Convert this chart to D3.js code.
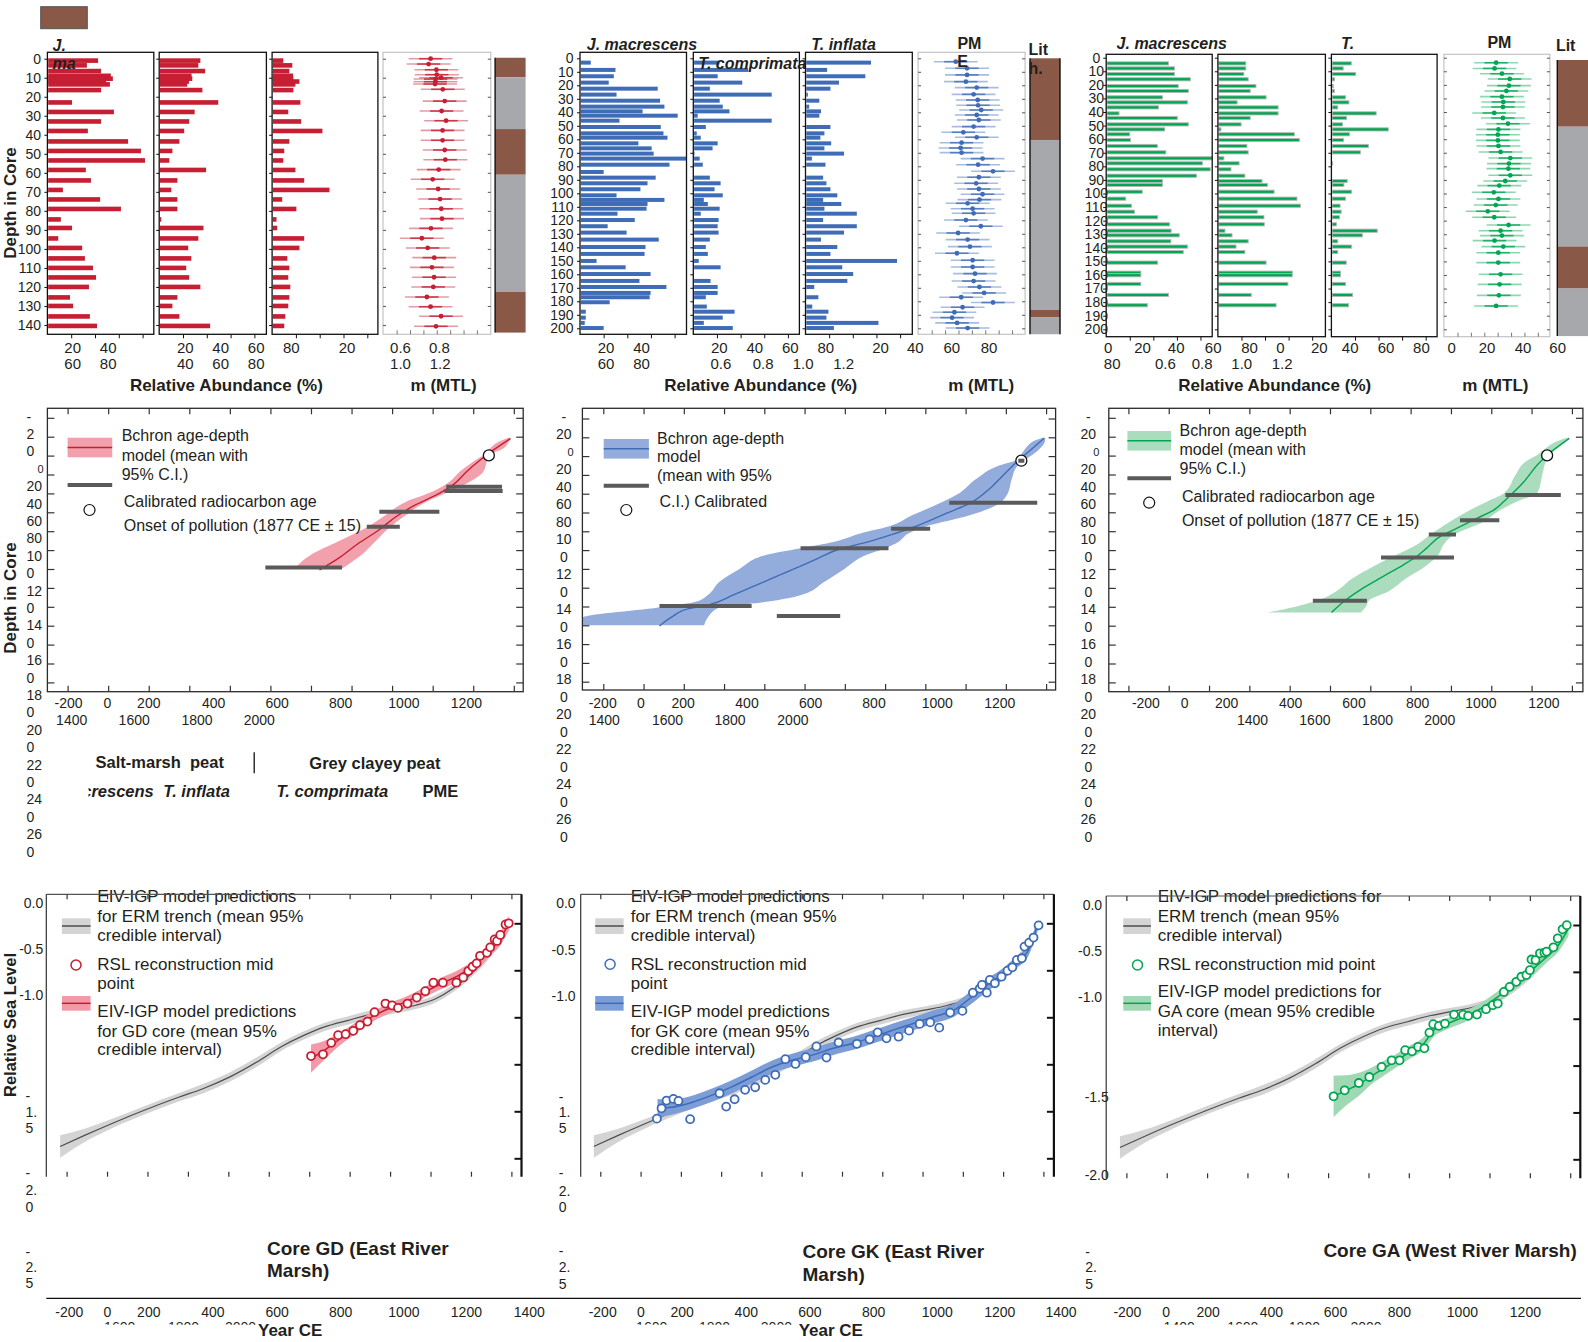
<!DOCTYPE html>
<html>
<head>
<meta charset="utf-8">
<title>Foraminifera, age-depth models and relative sea level</title>
<script src="https://cdn.jsdelivr.net/npm/d3@7"></script>
<style>
  body { margin: 0; background: #fff; }
  svg { display: block; font-family: "Liberation Sans", Arial, sans-serif; }
</style>
</head>
<body>
<svg id="chart" width="1588" height="1342"></svg>
<script>
// ---------------- top row: foraminifera counts (%) and PME (m MTL) by depth (cm) ----------------
const GD_DEPTH = [1, 3.5, 6.5, 9, 10.5, 12, 13.5, 16.5, 23, 28, 33, 38, 43.5, 48.5, 53.5, 58.5, 64, 69, 74, 79, 84.5, 89, 94.5, 99.5, 105, 110, 115, 120, 125.5, 130, 135.5, 140.5];
const GD_JMAC = [42.6, 33.2, 45.1, 53.3, 55, 49.4, 52.5, 45.1, 20.7, 55.9, 45.1, 34, 67.8, 78.6, 82, 32.3, 36.6, 13, 44.3, 61.8, 11.3, 20.7, 9.1, 29.2, 31.5, 38.3, 40.9, 34.9, 19, 21.6, 35.7, 41.7];
const GD_TINF = [34.6, 32.9, 38.6, 27.2, 27.8, 25, 23.5, 36.3, 49.6, 29.8, 25.2, 21, 17, 11.1, 8.5, 39.4, 15.3, 10.2, 15.3, 15.3, 1.7, 37.2, 32.9, 24.4, 27, 22.7, 25.2, 34.6, 15.3, 11.1, 17, 42.8];
const GD_TCOMP = [9.4, 17, 14.5, 17.6, 17.9, 23, 19.6, 17.9, 23.8, 13.6, 24.4, 42.3, 14.5, 10.2, 9.4, 19.6, 27, 48.2, 8.5, 20.4, 3.7, 4.3, 27, 23, 12.8, 14.5, 13.6, 15.3, 14.5, 13.6, 11.1, 10.2];
const GD_PME_DEPTH = [0, 2.8, 5.8, 8.4, 10, 10.7, 12.1, 13.3, 16.1, 22.3, 27.5, 32.6, 37.7, 42.9, 48, 53.1, 58.3, 63.4, 68.5, 73.8, 78.9, 84.1, 89.2, 94.4, 99.5, 104.6, 109.7, 114.9, 120, 125.3, 130.4, 135.4, 140.7];
const GD_PME = [0.755, 0.745, 0.785, 0.787, 0.809, 0.781, 0.780, 0.778, 0.818, 0.828, 0.812, 0.835, 0.817, 0.817, 0.828, 0.831, 0.797, 0.766, 0.794, 0.804, 0.810, 0.814, 0.757, 0.710, 0.740, 0.774, 0.762, 0.773, 0.769, 0.736, 0.755, 0.809, 0.783];
const GD_LITH = [
  { top: -0.5, base: 9.8, unit: 'peat' }, { top: 9.8, base: 37, unit: 'clay' },
  { top: 37, base: 61, unit: 'peat' }, { top: 61, base: 122.6, unit: 'clay' },
  { top: 122.6, base: 144, unit: 'peat' }
];

const GK_DEPTH = [3.2, 8.6, 13.3, 18, 22.5, 26.9, 31.4, 35.8, 39.3, 42.5, 46.2, 50.9, 55.6, 58.8, 63, 66.7, 70.6, 74.3, 78.8, 84.2, 88.4, 92.6, 97, 101.5, 104.9, 107.9, 111.4, 115.1, 119.8, 124.4, 129.1, 134.3, 139.8, 144.9, 150.1, 154.8, 159.8, 164.9, 169.4, 173.8, 177, 180.7, 183.9, 187.7, 192.1, 196, 199.8];
const GK_JMAC = [9.1, 30, 28.6, 24.3, 65.7, 30.9, 67.7, 71.4, 52.9, 82.6, 33.4, 68.3, 70.6, 74, 49.4, 60.6, 62.3, 90, 75.7, 20, 64, 57.1, 51.1, 30.9, 71.4, 57.1, 56.3, 31.7, 46.3, 23.4, 39.4, 66.6, 55.4, 54.6, 14, 38.6, 59.7, 50.3, 73.1, 59.7, 58.9, 25.1, 0, 4.9, 4.9, 4, 20];
const GK_TCOMP = [22, 46.3, 20.6, 41.4, 14, 66.3, 22.3, 24.9, 30.6, 3.7, 66.3, 10.6, 2.9, 6.3, 20.6, 16.3, 1.1, 5.4, 8, 0, 14, 23.1, 18, 24.9, 8.9, 12.3, 22.3, 6.3, 21.4, 20.6, 21.4, 14, 10.6, 12.3, 4.6, 23.1, 0, 14.6, 20.6, 20.6, 10.6, 0, 11.4, 34.9, 24.9, 8.9, 33.4];
const GK_TINF = [55.4, 18.3, 50.6, 28.3, 21.1, 2, 11.7, 3.1, 13.1, 11.7, 0, 21.1, 16, 12.6, 21.7, 16, 32.6, 5.4, 16.9, 0, 14.9, 17.7, 21.1, 26.9, 14.9, 30.3, 16, 43.4, 14.9, 43.4, 32.6, 13.1, 26.9, 21.1, 77.4, 31.1, 40.3, 35.4, 7.4, 0, 10.9, 0, 5.7, 19.4, 17.7, 61.7, 24];
const GK_PME_DEPTH = [2.5, 7.4, 12.3, 17.3, 21.7, 26.7, 30.9, 34.8, 38.3, 42, 45.7, 50.6, 54.8, 58.5, 62.5, 66.4, 69.9, 74.3, 78.8, 83.7, 88.1, 92.6, 96.8, 100.7, 104.7, 107.4, 111.4, 114.8, 119.8, 124.4, 129.4, 134.3, 139.5, 144.4, 149.6, 154.6, 159.5, 165, 169.4, 173.8, 177, 180.9, 184.4, 188.1, 192.1, 196, 199.8];
const GK_PME = [0.704, 0.762, 0.762, 0.756, 0.812, 0.796, 0.817, 0.819, 0.835, 0.812, 0.823, 0.796, 0.743, 0.812, 0.734, 0.729, 0.734, 0.842, 0.819, 0.896, 0.823, 0.809, 0.823, 0.842, 0.826, 0.765, 0.791, 0.796, 0.756, 0.833, 0.716, 0.765, 0.777, 0.710, 0.791, 0.791, 0.803, 0.796, 0.826, 0.850, 0.732, 0.896, 0.739, 0.697, 0.685, 0.711, 0.765];
const GK_LITH = [
  { top: 0, base: 60.5, unit: 'peat' }, { top: 60.5, base: 186.4, unit: 'clay' },
  { top: 186.4, base: 192, unit: 'peat' }, { top: 192, base: 204.4, unit: 'clay' }
];

const GA_DEPTH = [4.2, 7.9, 12, 15.9, 20.9, 24.5, 29.2, 32.9, 36.6, 41, 44.4, 49.1, 52.8, 56.4, 60.6, 65, 69.7, 74.1, 77.8, 82.2, 86.9, 90.8, 93.7, 98.7, 103.8, 109, 113.4, 117.5, 122.7, 127.4, 130.8, 135.2, 139.1, 143.1, 150.9, 158.3, 160.2, 166.6, 174.7, 182.3];
const GA_JMAC = [52.9, 58, 58, 71.4, 61.1, 69.7, 47.7, 68.9, 44.3, 10.9, 60.3, 69.7, 49.7, 20, 20.6, 43.4, 50.6, 90, 81.7, 88.3, 76.6, 47.7, 47.7, 30.6, 16.6, 21.4, 24, 43.7, 53.7, 55.1, 62, 54.9, 68.9, 65.4, 43.7, 29.4, 29.4, 29.4, 52.9, 34.9];
const GA_TCOMP = [23.7, 23.7, 22, 25.7, 32.3, 27.4, 40.9, 16.3, 51.1, 51.1, 27.4, 19.7, 2.6, 64.9, 69.1, 24.6, 25.7, 5.1, 18, 11.1, 22.9, 37.4, 42, 47.7, 67.1, 70, 33.4, 39.1, 39.4, 6, 12, 25.7, 15.4, 22.9, 40.9, 63.1, 63.1, 59.4, 28.3, 49.4];
const GA_TINF = [16.9, 10, 20.6, 2.6, 1.7, 2.6, 12, 14.9, 5.4, 38, 12.9, 9.4, 48.3, 15.4, 10.3, 31.4, 24.6, 0, 1.1, 0, 0, 13.4, 10.6, 17.1, 12, 7.4, 8.3, 6.9, 4.3, 38.9, 26.3, 5.4, 17.1, 5.4, 12.6, 7.7, 7.7, 12, 18, 14.6];
const GA_PME_DEPTH = [3.7, 7.9, 11.8, 15.7, 20.6, 24.5, 28.7, 32.6, 36.3, 40.7, 44.4, 48.6, 52.8, 56.7, 60.9, 65, 69.4, 73.9, 78, 81.7, 86.6, 90.8, 94.2, 99.1, 104, 108.5, 113.1, 117.5, 123.2, 127.4, 131, 134.7, 139.1, 143.6, 150.9, 159.5, 166.9, 175, 182.8];
const GA_PME = [0.779, 0.771, 0.809, 0.849, 0.845, 0.832, 0.809, 0.816, 0.814, 0.769, 0.814, 0.840, 0.791, 0.788, 0.788, 0.791, 0.802, 0.852, 0.845, 0.842, 0.852, 0.826, 0.795, 0.767, 0.791, 0.777, 0.736, 0.769, 0.843, 0.802, 0.809, 0.771, 0.816, 0.790, 0.790, 0.802, 0.797, 0.793, 0.779];
const GA_LITH = [
  { top: 1.7, base: 50.8, unit: 'peat' }, { top: 50.8, base: 139, unit: 'clay' },
  { top: 139, base: 170, unit: 'peat' }, { top: 170, base: 205, unit: 'clay' }
];

// ---------------- middle row: Bchron age-depth models ----------------
const GD_MODEL_DEPTH = [2, 14, 25, 37, 51, 60, 72, 85, 99, 113, 129, 141];
const GD_MODEL_YEAR = [1983, 1900, 1833, 1767, 1700, 1633, 1517, 1417, 1333, 1233, 1133, 1042];
const GD_CI_DEPTH = [1, 5.3, 12.3, 19.4, 26.5, 37, 47.6, 58, 69, 83, 97, 111, 125, 140];
const GD_CI_LO = [1975, 1925, 1883, 1850, 1800, 1733, 1683, 1600, 1467, 1367, 1267, 1133, 1000, 917];
const GD_CI_HI = [1987, 1975, 1950, 1883, 1867, 1850, 1783, 1683, 1567, 1467, 1383, 1317, 1250, 1150];
const GD_C14_DEPTH = [52.9, 57.5, 79.4, 95.2, 138.3];
const GD_C14_LO = [1667, 1658, 1337, 1275, 775];
const GD_C14_HI = [1942, 1945, 1633, 1438, 1153];
const GD_ONSET_DEPTH = 19.8;

const GK_MODEL_DEPTH = [1.1, 13.5, 25.9, 40.1, 54.4, 70.3, 81, 93.4, 102.3, 111.2, 118.3, 130.7, 143.2, 155.6, 168, 178, 182.2, 191.1, 200.7];
const GK_MODEL_YEAR = [1990, 1923, 1855, 1788, 1721, 1620, 1503, 1368, 1250, 1116, 982, 847, 713, 578, 444, 326, 225, 141, 79];
const GK_CI_DEPTH = [0.5, 3, 14, 24, 31, 44, 61.5, 72, 83, 95, 102, 111, 118, 125, 140, 154, 168, 175, 181, 192, 200];
const GK_CI_LO = [1985, 1950, 1890, 1855, 1755, 1654, 1553, 1452, 1334, 1217, 1082, 948, 780, 612, 477, 376, 318, 259, 74, -304, -304];
const GK_CI_HI = [1995, 1995, 1960, 1895, 1855, 1830, 1805, 1755, 1620, 1402, 1318, 1267, 1200, 1108, 998, 897, 780, 612, 376, 318, 301];
const GK_C14_DEPTH = [24.9, 69.6, 97.3, 118, 179.4, 190];
const GK_C14_LO = [1862, 1519, 1230, 780, 79, 662];
const GK_C14_HI = [1892, 1956, 1424, 1217, 537, 977];
const GK_ONSET_DEPTH = 24.9;

const GA_MODEL_DEPTH = [1.8, 19.4, 30, 47.6, 65.3, 77.6, 86.4, 97, 105.8, 118.2, 127, 135.8, 148.1, 160.5, 172.8, 185.9];
const GA_MODEL_YEAR = [1987, 1878, 1828, 1762, 1678, 1612, 1528, 1428, 1345, 1278, 1228, 1162, 1062, 962, 878, 808];
const GA_CI_DEPTH = [1.1, 5.3, 12.3, 19.4, 26.5, 40.6, 60, 67, 77.6, 89.9, 104, 114.6, 125.2, 137.6, 149.9, 164, 172.8, 179.9, 185.9];
const GA_CI_LO = [1975, 1920, 1870, 1828, 1770, 1720, 1662, 1595, 1495, 1395, 1295, 1228, 1128, 1012, 912, 828, 745, 628, 495];
const GA_CI_HI = [1987, 1970, 1928, 1887, 1870, 1853, 1828, 1745, 1645, 1562, 1412, 1362, 1337, 1270, 1178, 1087, 995, 978, 953];
const GA_C14_DEPTH = [61.7, 88.5, 103.4, 127.7, 173.5];
const GA_C14_LO = [1670, 1445, 1290, 1053, 715];
const GA_C14_HI = [1945, 1640, 1425, 1415, 983];
const GA_ONSET_DEPTH = 19.8;
const ONSET_YEAR = 1877;

// ---------------- bottom row: relative sea level (m) ----------------
const ERM_YEAR = [-232, -111, 22, 190, 357, 474, 608, 741, 859, 976, 1076, 1193, 1310, 1410, 1527, 1628, 1711, 1812, 1895, 1987];
const ERM_RSL = [-1.437, -1.378, -1.316, -1.242, -1.174, -1.130, -1.067, -0.988, -0.908, -0.845, -0.801, -0.766, -0.733, -0.712, -0.686, -0.650, -0.597, -0.508, -0.410, -0.250];
const ERM_ERR = [0.06, 0.035, 0.025, 0.022, 0.022, 0.025, 0.025, 0.025, 0.022, 0.022, 0.022, 0.022, 0.022, 0.02, 0.02, 0.02, 0.02, 0.02, 0.02, 0.02];

const GD_RSL_YEAR = [1009, 1068, 1109, 1143, 1180, 1218, 1251, 1288, 1323, 1377, 1410, 1439, 1486, 1532, 1574, 1614, 1661, 1728, 1762, 1787, 1808, 1828, 1845, 1879, 1895, 1917, 1929, 1945, 1971, 1987];
const GD_RSL = [-0.956, -0.947, -0.886, -0.845, -0.840, -0.822, -0.792, -0.773, -0.723, -0.677, -0.687, -0.700, -0.677, -0.645, -0.611, -0.566, -0.566, -0.566, -0.538, -0.504, -0.481, -0.463, -0.423, -0.407, -0.378, -0.336, -0.344, -0.312, -0.256, -0.250];
const GD_FIT_YEAR = [1009, 1076, 1143, 1226, 1310, 1394, 1477, 1561, 1645, 1728, 1812, 1879, 1946, 1987];
const GD_FIT = [-0.970, -0.925, -0.872, -0.810, -0.748, -0.703, -0.668, -0.623, -0.574, -0.534, -0.478, -0.410, -0.330, -0.250];
const GD_FIT_ERR = [0.075, 0.05, 0.035, 0.03, 0.027, 0.027, 0.027, 0.027, 0.03, 0.03, 0.03, 0.03, 0.035, 0.04];

const GK_RSL_YEAR = [81, 104, 129, 163, 188, 246, 392, 425, 467, 519, 569, 619, 669, 719, 769, 820, 873, 923, 983, 1074, 1137, 1177, 1221, 1281, 1333, 1386, 1438, 1483, 1537, 1598, 1650, 1684, 1695, 1719, 1734, 1759, 1792, 1822, 1846, 1868, 1893, 1906, 1929, 1951, 1976];
const GK_RSL = [-1.289, -1.234, -1.193, -1.184, -1.195, -1.292, -1.154, -1.225, -1.186, -1.136, -1.122, -1.083, -1.056, -0.973, -0.998, -0.962, -0.905, -0.964, -0.884, -0.891, -0.867, -0.830, -0.862, -0.853, -0.821, -0.785, -0.777, -0.805, -0.725, -0.716, -0.619, -0.597, -0.578, -0.619, -0.551, -0.569, -0.534, -0.502, -0.484, -0.445, -0.436, -0.374, -0.353, -0.326, -0.261];
const GK_FIT_YEAR = [84, 154, 238, 355, 455, 555, 656, 756, 856, 957, 1057, 1157, 1257, 1358, 1458, 1558, 1625, 1709, 1792, 1859, 1926, 1968];
const GK_FIT = [-1.234, -1.229, -1.208, -1.164, -1.119, -1.066, -1.013, -0.977, -0.950, -0.915, -0.888, -0.853, -0.817, -0.782, -0.746, -0.711, -0.658, -0.587, -0.525, -0.463, -0.392, -0.268];
const GK_FIT_ERR = [0.05, 0.04, 0.035, 0.035, 0.035, 0.035, 0.035, 0.035, 0.035, 0.035, 0.035, 0.035, 0.035, 0.035, 0.035, 0.035, 0.035, 0.035, 0.03, 0.03, 0.03, 0.03];

const GA_RSL_YEAR = [827, 882, 952, 1004, 1065, 1115, 1154, 1182, 1216, 1246, 1277, 1302, 1321, 1349, 1379, 1424, 1469, 1494, 1538, 1583, 1616, 1641, 1671, 1700, 1733, 1758, 1783, 1800, 1808, 1828, 1850, 1872, 1883, 1917, 1938, 1962, 1983];
const GA_RSL = [-1.164, -1.132, -1.093, -1.061, -1.007, -0.972, -0.972, -0.918, -0.924, -0.900, -0.908, -0.824, -0.779, -0.788, -0.776, -0.728, -0.728, -0.735, -0.728, -0.699, -0.678, -0.669, -0.607, -0.580, -0.553, -0.526, -0.517, -0.491, -0.434, -0.437, -0.401, -0.398, -0.392, -0.369, -0.321, -0.273, -0.251];
const GA_FIT_YEAR = [827, 890, 957, 1007, 1074, 1140, 1207, 1274, 1324, 1391, 1474, 1558, 1641, 1725, 1808, 1875, 1942, 1992];
const GA_FIT = [-1.164, -1.132, -1.097, -1.061, -1.016, -0.972, -0.927, -0.882, -0.811, -0.776, -0.740, -0.695, -0.633, -0.562, -0.491, -0.428, -0.357, -0.268];
const GA_FIT_ERR = [0.11, 0.08, 0.06, 0.045, 0.04, 0.035, 0.035, 0.035, 0.035, 0.03, 0.03, 0.03, 0.03, 0.03, 0.03, 0.03, 0.035, 0.04];

// ---------------- tick labels as printed (wrapped) ----------------
const MID_Y_LABELS_GD = ['-', '2', '0', '0', '20', '40', '60', '80', '10', '0', '12', '0', '14', '0', '16', '0', '18', '0', '20', '0', '22', '0', '24', '0', '26', '0'];
const MID_Y_LABELS = ['-', '20', '0', '20', '40', '60', '80', '10', '0', '12', '0', '14', '0', '16', '0', '18', '0', '20', '0', '22', '0', '24', '0', '26', '0'];
const YEAR_ROW1 = ['-200', '0', '200', '400', '600', '800', '1000', '1200'];
const YEAR_ROW2 = ['1400', '1600', '1800', '2000'];

// ---------------- colours ----------------
const COLORS = {
  GD: { bar: '#C61E32', band: '#F3A0AD', rslBand: '#F29AA8' },
  GK: { bar: '#3F6CB7', band: '#93ACDB', rslBand: '#7C9DD6' },
  GA: { bar: '#00A651', band: '#AADCBD', rslBand: '#A0D8B3' }
};
const LITH_COLOR = { peat: '#8A5846', clay: '#A6A8AB' };
const ERM_BAND = '#D4D4D4';
const ERM_LINE = '#4D4D4D';
const C14_COLOR = '#5A5A5A';
const INK = '#231F20';

const svg = d3.select('#chart');
const defs = svg.append('defs');

function label(x, y, s, o = {}) {
  return (o.parent || svg).append('text')
    .attr('x', x).attr('y', y).attr('dy', '0.35em')
    .attr('text-anchor', o.anchor || 'start')
    .attr('font-size', o.size || 14)
    .attr('font-weight', o.bold ? 'bold' : 'normal')
    .attr('font-style', o.italic ? 'italic' : 'normal')
    .attr('fill', o.fill || INK)
    .attr('transform', o.rotate ? `rotate(${o.rotate},${x},${y})` : null)
    .text(s);
}

function clipRect(id, x, y, w, h) {
  defs.append('clipPath').attr('id', id).append('rect')
    .attr('x', x).attr('y', y).attr('width', w).attr('height', h);
  return `url(#${id})`;
}

function styleAxis(g, color, width) {
  g.select('.domain').remove();
  g.selectAll('.tick line').attr('stroke', color).attr('stroke-width', width);
}

// ================= TOP ROW =================
function drawCounts(c) {
  const col = COLORS[c.core];
  const depthY = d3.scaleLinear().domain([0, 10]).range([c.d0, c.d0 + c.per10]);
  const boxH = c.bottom - c.top;

  c.boxes.forEach(b => {
    const pct = d3.scaleLinear().domain([0, 20]).range([b.x, b.x + c.per20]);
    const rows = c.depth.map((d, i) => ({ d, v: b.values[i] })).filter(r => r.v > 0);
    svg.append('g').selectAll('rect').data(rows).join('rect')
      .attr('x', b.x + 0.8)
      .attr('y', r => depthY(r.d) - c.barH / 2)
      .attr('width', r => Math.min(pct(r.v), b.x + b.w) - b.x - 0.8)
      .attr('height', c.barH)
      .attr('fill', col.bar)
      .attr('stroke', c.barStroke || 'none')
      .attr('stroke-width', 0.9);
    svg.append('rect').attr('x', b.x).attr('y', c.top)
      .attr('width', b.w).attr('height', boxH)
      .attr('fill', 'none').attr('stroke', '#111').attr('stroke-width', 1.3);
    svg.append('g').attr('transform', `translate(0,${c.bottom})`)
      .call(d3.axisBottom(pct).tickValues([20, 40, 60, 80].filter(v => pct(v) < b.x + b.w - 2)).tickSize(4).tickFormat(''))
      .call(g => styleAxis(g, '#111', 1));
    svg.append('g').attr('transform', `translate(${b.x},0)`)
      .call(d3.axisLeft(depthY).tickValues(c.depthTicks).tickSize(3).tickFormat(''))
      .call(g => styleAxis(g, '#111', 1));
  });

  // depth labels on the first panel
  svg.append('g').selectAll('text').data(c.depthTicks).join('text')
    .attr('x', c.depthLabelX).attr('y', d => depthY(d)).attr('dy', '0.35em')
    .attr('text-anchor', c.depthLabelAnchor)
    .attr('font-size', 14).attr('fill', INK)
    .text(d => d);

  // PME panel
  const p = c.pme;
  const m = d3.scaleLinear().domain([0.6, 0.7]).range([p.x + 17.5, p.x + 17.5 + 19.4]);
  svg.append('rect').attr('x', p.x).attr('y', c.top).attr('width', p.w).attr('height', boxH)
    .attr('fill', 'none').attr('stroke', '#C4C4C4').attr('stroke-width', 1.2);
  svg.append('g').attr('transform', `translate(${p.x},0)`)
    .call(d3.axisRight(depthY).tickValues(c.depthTicks).tickSize(3).tickFormat(''))
    .call(g => styleAxis(g, '#555', 1));
  svg.append('g').attr('transform', `translate(${p.x + p.w},0)`)
    .call(d3.axisLeft(depthY).tickValues(c.depthTicks).tickSize(3).tickFormat(''))
    .call(g => styleAxis(g, '#555', 1));
  svg.append('g').attr('transform', `translate(0,${c.bottom})`)
    .call(d3.axisTop(m).tickValues(d3.range(7).map(i => 0.58 + i * 0.069)).tickSize(4).tickFormat(''))
    .call(g => styleAxis(g, '#777', 1));
  const pts = p.depth.map((d, i) => ({ d, v: p.values[i] }));
  const pg = svg.append('g');
  pg.selectAll('line.outer').data(pts).join('line').attr('class', 'outer')
    .attr('x1', r => m(r.v - 0.113)).attr('x2', r => m(r.v + 0.113))
    .attr('y1', r => depthY(r.d)).attr('y2', r => depthY(r.d))
    .attr('stroke', col.bar).attr('stroke-opacity', 0.45).attr('stroke-width', 1.6);
  pg.selectAll('line.inner').data(pts).join('line').attr('class', 'inner')
    .attr('x1', r => m(r.v - 0.06)).attr('x2', r => m(r.v + 0.06))
    .attr('y1', r => depthY(r.d)).attr('y2', r => depthY(r.d))
    .attr('stroke', col.bar).attr('stroke-opacity', 0.8).attr('stroke-width', 1.6);
  pg.selectAll('circle').data(pts).join('circle')
    .attr('cx', r => m(r.v)).attr('cy', r => depthY(r.d)).attr('r', 2.4)
    .attr('fill', col.bar);

  // lithology column
  const L = c.lith;
  svg.append('g').selectAll('rect').data(L.units).join('rect')
    .attr('x', L.x).attr('y', u => depthY(u.top))
    .attr('width', L.w).attr('height', u => depthY(u.base) - depthY(u.top))
    .attr('fill', u => LITH_COLOR[u.unit]);
  const lithTop = depthY(L.units[0].top), lithBase = depthY(L.units[L.units.length - 1].base);
  L.lines.forEach(x => svg.append('line').attr('x1', x).attr('x2', x)
    .attr('y1', lithTop).attr('y2', lithBase).attr('stroke', '#111').attr('stroke-width', 1.4));

  // wrapped tick labels and titles
  c.tickRows.forEach(row => row.items.forEach(([s, x]) => label(x, row.y, s, { anchor: 'middle', size: 15 })));
  c.headers.forEach(h => label(h.x, h.y, h.s, { bold: true, italic: h.italic, size: 16, anchor: h.anchor || 'start' }));
  label(c.raX, 385, 'Relative Abundance (%)', { anchor: 'middle', bold: true, size: 17 });
  label(c.mX, 385, 'm (MTL)', { anchor: 'middle', bold: true, size: 17 });
}

// ================= MIDDLE ROW =================
function drawAgeDepth(c) {
  const col = COLORS[c.core];
  const x = d3.scaleLinear().domain([-200, 2000]).range([c.xA, c.xB]);
  const y = d3.scaleLinear().domain([0, 20]).range([c.y0, c.y0 + c.per20]);
  const clip = clipRect('clip-ad-' + c.core, c.box[0], c.box[1], c.box[2] - c.box[0], c.box[3] - c.box[1]);
  const g = svg.append('g').attr('clip-path', clip);

  const band = c.ciDepth.map((d, i) => ({ d, lo: c.ciLo[i], hi: c.ciHi[i] }));
  g.append('path').datum(band)
    .attr('d', d3.area().y(p => y(p.d)).x0(p => x(p.lo)).x1(p => x(p.hi)).curve(d3.curveMonotoneY))
    .attr('fill', col.band);
  const mean = c.modelDepth.map((d, i) => ({ d, yr: c.modelYear[i] }));
  g.append('path').datum(mean)
    .attr('d', d3.line().y(p => y(p.d)).x(p => x(p.yr)).curve(d3.curveMonotoneY))
    .attr('fill', 'none').attr('stroke', col.bar).attr('stroke-width', 1.4);

  const c14 = c.c14Depth.map((d, i) => ({ d, lo: c.c14Lo[i], hi: c.c14Hi[i] }));
  g.append('circle').attr('cx', x(ONSET_YEAR)).attr('cy', y(c.onsetDepth)).attr('r', 5.5)
    .attr('fill', '#fff').attr('stroke', '#111').attr('stroke-width', 1.3);
  g.selectAll('line.c14').data(c14).join('line').attr('class', 'c14')
    .attr('x1', p => x(p.lo)).attr('x2', p => x(p.hi))
    .attr('y1', p => y(p.d)).attr('y2', p => y(p.d))
    .attr('stroke', C14_COLOR).attr('stroke-width', 4);

  // frame and inward ticks on all sides
  svg.append('rect').attr('x', c.box[0]).attr('y', c.box[1])
    .attr('width', c.box[2] - c.box[0]).attr('height', c.box[3] - c.box[1])
    .attr('fill', 'none').attr('stroke', '#2B2B2B').attr('stroke-width', 1.3);
  const yrTicks = d3.range(-200, 2001, 200), dTicks = d3.range(-20, 261, 20);
  svg.append('g').attr('transform', `translate(0,${c.box[1]})`)
    .call(d3.axisTop(x).tickValues(yrTicks).tickSize(-6).tickFormat('')).call(a => styleAxis(a, '#333', 1.2));
  svg.append('g').attr('transform', `translate(0,${c.box[3]})`)
    .call(d3.axisBottom(x).tickValues(yrTicks).tickSize(-6).tickFormat('')).call(a => styleAxis(a, '#333', 1.2));
  svg.append('g').attr('transform', `translate(${c.box[0]},0)`)
    .call(d3.axisLeft(y).tickValues(dTicks).tickSize(-7).tickFormat('')).call(a => styleAxis(a, '#333', 1.2));
  svg.append('g').attr('transform', `translate(${c.box[2]},0)`)
    .call(d3.axisRight(y).tickValues(dTicks).tickSize(-7).tickFormat('')).call(a => styleAxis(a, '#333', 1.2));

  // legend
  const L = c.legend;
  svg.append('rect').attr('x', L.x).attr('y', L.sy).attr('width', L.w).attr('height', 19.6).attr('fill', col.band);
  svg.append('line').attr('x1', L.x).attr('x2', L.x + L.w).attr('y1', L.sy + 9.8).attr('y2', L.sy + 9.8)
    .attr('stroke', col.bar).attr('stroke-width', 1.6);
  svg.append('line').attr('x1', L.x).attr('x2', L.x + L.w).attr('y1', L.c14y).attr('y2', L.c14y)
    .attr('stroke', C14_COLOR).attr('stroke-width', 4);
  svg.append('circle').attr('cx', L.cx).attr('cy', L.cy).attr('r', 5.5)
    .attr('fill', '#fff').attr('stroke', '#111').attr('stroke-width', 1.2);
  L.lines.forEach(([s, lx, ly]) => label(lx, ly, s, { size: 16 }));

  // wrapped tick labels
  c.yLabels.forEach((s, i) => label(i === c.smallIndex ? c.smallX : c.yLabelX, c.yLabelTop + i * c.yLabelStep, s,
    { anchor: c.yLabelAnchor, size: i === c.smallIndex ? 11 : 14 }));
  YEAR_ROW1.forEach((s, i) => label(c.row1X[i], 703.3, s, { anchor: 'middle', size: 14 }));
  YEAR_ROW2.forEach((s, i) => label(c.row2X[i], 720, s, { anchor: 'middle', size: 14 }));
}

// ================= BOTTOM ROW =================
function drawRsl(c) {
  const col = COLORS[c.core];
  const x = d3.scaleLinear().domain([-200, 2000]).range([c.xA, c.xB]);
  const y = d3.scaleLinear().domain([-0.25, -1.5]).range([c.yA, c.yB]);
  const clip = clipRect('clip-rsl-' + c.core, c.box[0], c.box[1], c.box[2] - c.box[0], c.box[3] - c.box[1]);
  const g = svg.append('g').attr('clip-path', clip);

  const erm = ERM_YEAR.map((yr, i) => ({ yr, v: ERM_RSL[i], e: ERM_ERR[i] }));
  g.append('path').datum(erm)
    .attr('d', d3.area().x(p => x(p.yr)).y0(p => y(p.v - p.e)).y1(p => y(p.v + p.e)).curve(d3.curveMonotoneX))
    .attr('fill', ERM_BAND);
  g.append('path').datum(erm)
    .attr('d', d3.line().x(p => x(p.yr)).y(p => y(p.v)).curve(d3.curveMonotoneX))
    .attr('fill', 'none').attr('stroke', ERM_LINE).attr('stroke-width', 1.2);

  const fit = c.fitYear.map((yr, i) => ({ yr, v: c.fit[i], e: c.fitErr[i] }));
  g.append('path').datum(fit)
    .attr('d', d3.area().x(p => x(p.yr)).y0(p => y(p.v - p.e)).y1(p => y(p.v + p.e)).curve(d3.curveMonotoneX))
    .attr('fill', col.rslBand);
  g.append('path').datum(fit)
    .attr('d', d3.line().x(p => x(p.yr)).y(p => y(p.v)).curve(d3.curveMonotoneX))
    .attr('fill', 'none').attr('stroke', col.bar).attr('stroke-width', 1.5);

  const pts = c.rslYear.map((yr, i) => ({ yr, v: c.rsl[i] }));
  g.selectAll('circle').data(pts).join('circle')
    .attr('cx', p => x(p.yr)).attr('cy', p => y(p.v)).attr('r', 4)
    .attr('fill', '#fff').attr('stroke', col.bar).attr('stroke-width', 1.8);

  // legend
  const L = c.legend;
  svg.append('rect').attr('x', L.x).attr('y', 918.3).attr('width', L.w).attr('height', 15.7).attr('fill', ERM_BAND);
  svg.append('line').attr('x1', L.x).attr('x2', L.x + L.w).attr('y1', 926).attr('y2', 926)
    .attr('stroke', ERM_LINE).attr('stroke-width', 1.5);
  svg.append('circle').attr('cx', L.cx).attr('cy', L.cy).attr('r', 5)
    .attr('fill', '#fff').attr('stroke', col.bar).attr('stroke-width', 1.5);
  svg.append('rect').attr('x', L.x).attr('y', 996).attr('width', L.w).attr('height', 14.7).attr('fill', col.rslBand);
  svg.append('line').attr('x1', L.x).attr('x2', L.x + L.w).attr('y1', 1003.3).attr('y2', 1003.3)
    .attr('stroke', col.bar).attr('stroke-width', 1.5);
  L.lines.forEach(([s, ly]) => label(L.tx, ly, s, { size: 17 }));

  // frame: left and top thin, right thick, ticks
  const [x0, y0, x1, y1] = c.box;
  svg.append('line').attr('x1', x0).attr('x2', x1).attr('y1', y0).attr('y2', y0).attr('stroke', '#555').attr('stroke-width', 1.2);
  svg.append('line').attr('x1', x0).attr('x2', x0).attr('y1', y0).attr('y2', y1).attr('stroke', '#333').attr('stroke-width', 1.2);
  svg.append('line').attr('x1', x1).attr('x2', x1).attr('y1', y0).attr('y2', y1).attr('stroke', '#111').attr('stroke-width', 2.2);
  const yrTicks = d3.range(-200, 2001, 200);
  svg.append('g').attr('transform', `translate(0,${y0})`)
    .call(d3.axisTop(x).tickValues(yrTicks).tickSize(-5).tickFormat('')).call(a => styleAxis(a, '#333', 1.2));
  svg.append('g').attr('transform', `translate(0,${y1})`)
    .call(d3.axisBottom(x).tickValues(yrTicks).tickSize(-5).tickFormat('')).call(a => styleAxis(a, '#333', 1.2));
  svg.append('g').attr('transform', `translate(${x1},0)`)
    .call(d3.axisRight(y).tickValues(d3.range(6).map(i => -0.25 - i * 0.25)).tickSize(-7).tickFormat(''))
    .call(a => styleAxis(a, '#111', 2));

  c.yLabels.forEach(([s, lx, ly, anchor]) => label(lx, ly, s, { anchor, size: 14 }));
  c.xLabels.forEach(([s, lx]) => label(lx, 1311.7, s, { anchor: 'middle', size: 14 }));
  // second wrapped row of year labels: only its top edge shows above the figure crop
  const row2 = svg.append('g').attr('clip-path', clipRect('clip-row2-' + c.core, 0, 1318, 1588, 6.8));
  c.xLabels2.forEach(([s, lx]) => label(lx, 1327.5, s, { anchor: 'middle', size: 14, parent: row2 }));
  c.titles.forEach(([s, lx, ly]) => label(lx, ly, s, { bold: true, size: 19 }));
}

// ---------------- panel layouts ----------------
drawCounts({
  core: 'GD', top: 52.3, bottom: 334.3, d0: 58.7, per10: 19.02, per20: 23.8, barH: 4.6,
  depth: GD_DEPTH, depthTicks: d3.range(0, 141, 10), depthLabelX: 41, depthLabelAnchor: 'end',
  boxes: [{ x: 47.4, w: 106.4, values: GD_JMAC }, { x: 159.2, w: 107.2, values: GD_TINF }, { x: 272.1, w: 105.8, values: GD_TCOMP }],
  pme: { x: 383, w: 107.8, depth: GD_PME_DEPTH, values: GD_PME },
  lith: { x: 495.1, w: 30.5, units: GD_LITH, lines: [495.1] },
  tickRows: [
    { y: 347.3, items: [['20', 72.7], ['40', 108.2], ['20', 185.3], ['40', 220.7], ['60', 256.2], ['80', 291.3], ['20', 347.1], ['0.6', 400.5], ['0.8', 439.4]] },
    { y: 364, items: [['60', 72.7], ['80', 108.2], ['40', 185.3], ['60', 220.7], ['80', 256.2], ['1.0', 400.5], ['1.2', 440.1]] }
  ],
  headers: [{ s: 'J.', x: 52.5, y: 45, italic: true }, { s: 'ma', x: 52.5, y: 63.3, italic: true }],
  raX: 226.4, mX: 443.6
});
drawCounts({
  core: 'GK', top: 52.3, bottom: 334.3, d0: 58.3, per10: 13.5, per20: 23.65, barH: 4,
  depth: GK_DEPTH, depthTicks: d3.range(0, 201, 10), depthLabelX: 573.6, depthLabelAnchor: 'end',
  boxes: [{ x: 580, w: 106.5, values: GK_JMAC }, { x: 693.3, w: 106.1, values: GK_TCOMP }, { x: 805.5, w: 106.8, values: GK_TINF }],
  pme: { x: 918.1, w: 107, depth: GK_PME_DEPTH, values: GK_PME },
  lith: { x: 1030, w: 30, units: GK_LITH, lines: [1030, 1060] },
  tickRows: [
    { y: 347.3, items: [['20', 606], ['40', 641.5], ['20', 719.3], ['40', 754.8], ['60', 790.3], ['80', 825.8], ['20', 880.5], ['40', 915.3], ['60', 951.8], ['80', 989]] },
    { y: 364, items: [['60', 606], ['80', 641.5], ['0.6', 720.9], ['0.8', 763.2], ['1.0', 803.1], ['1.2', 843.6]] }
  ],
  headers: [
    { s: 'J. macrescens', x: 586.8, y: 44.3, italic: true }, { s: 'T. comprimata', x: 698.3, y: 63.3, italic: true },
    { s: 'T. inflata', x: 811.2, y: 44.3, italic: true }, { s: 'PM', x: 969.4, y: 43.3, anchor: 'middle' },
    { s: 'E', x: 962.7, y: 61.7, anchor: 'middle' }, { s: 'Lit', x: 1028.5, y: 49.3 }, { s: 'h.', x: 1028.5, y: 68.3 }
  ],
  raX: 760.7, mX: 981.2
});
drawCounts({
  core: 'GA', top: 54.3, bottom: 336.7, d0: 57.7, per10: 13.58, per20: 23.57, barH: 3.2, barStroke: '#B8B8B8',
  depth: GA_DEPTH, depthTicks: d3.range(0, 201, 10), depthLabelX: 1096.3, depthLabelAnchor: 'middle',
  boxes: [{ x: 1106.2, w: 106, values: GA_JMAC }, { x: 1217.9, w: 107.5, values: GA_TCOMP }, { x: 1331.4, w: 105.7, values: GA_TINF }],
  pme: { x: 1443.9, w: 106, depth: GA_PME_DEPTH, values: GA_PME },
  lith: { x: 1557.3, w: 30.7, units: GA_LITH, lines: [1557.3] },
  tickRows: [
    { y: 347.3, items: [['0', 1108.2], ['20', 1142.5], ['40', 1176.2], ['60', 1213.2], ['80', 1249.6], ['0', 1280.5], ['20', 1319.3], ['40', 1350.2], ['60', 1386], ['80', 1421.4], ['0', 1451.7], ['20', 1487], ['40', 1523], ['60', 1557.7]] },
    { y: 364, items: [['80', 1112.2], ['0.6', 1165.4], ['0.8', 1202.1], ['1.0', 1241.8], ['1.2', 1282.2]] }
  ],
  headers: [
    { s: 'J. macrescens', x: 1116.6, y: 43, italic: true }, { s: 'T.', x: 1341.1, y: 43, italic: true },
    { s: 'PM', x: 1499.4, y: 42.3, anchor: 'middle' }, { s: 'Lit', x: 1555.9, y: 45 }
  ],
  raX: 1274.7, mX: 1495.4
});

drawAgeDepth({
  core: 'GD', box: [47.4, 408.3, 523.2, 691.7], xA: 67.6, xB: 513.8, y0: 436.7, per20: 18.9,
  modelDepth: GD_MODEL_DEPTH, modelYear: GD_MODEL_YEAR, ciDepth: GD_CI_DEPTH, ciLo: GD_CI_LO, ciHi: GD_CI_HI,
  c14Depth: GD_C14_DEPTH, c14Lo: GD_C14_LO, c14Hi: GD_C14_HI, onsetDepth: GD_ONSET_DEPTH,
  legend: {
    x: 67.6, w: 44.6, sy: 437.7, c14y: 485, cx: 89.5, cy: 510,
    lines: [['Bchron age-depth', 121.7, 435.7], ['model (mean with', 121.7, 455], ['95% C.I.)', 121.7, 474.7],
            ['Calibrated radiocarbon age', 123.7, 501.7], ['Onset of pollution (1877 CE \u00B1 15)', 123.7, 525.7]]
  },
  yLabels: MID_Y_LABELS_GD, smallIndex: 3, smallX: 37.5, yLabelX: 26.4, yLabelAnchor: 'start', yLabelTop: 416.7, yLabelStep: 17.4,
  row1X: [68.6, 107.5, 148.8, 213.7, 277.1, 340.7, 403.9, 466.4], row2X: [71.7, 134.2, 197, 259.3]
});
drawAgeDepth({
  core: 'GK', box: [582.4, 408.3, 1055.6, 690], xA: 603.3, xB: 1046.1, y0: 437.3, per20: 18.8,
  modelDepth: GK_MODEL_DEPTH, modelYear: GK_MODEL_YEAR, ciDepth: GK_CI_DEPTH, ciLo: GK_CI_LO, ciHi: GK_CI_HI,
  c14Depth: GK_C14_DEPTH, c14Lo: GK_C14_LO, c14Hi: GK_C14_HI, onsetDepth: GK_ONSET_DEPTH,
  legend: {
    x: 603.7, w: 45.2, sy: 439, c14y: 485.7, cx: 626.3, cy: 510,
    lines: [['Bchron age-depth', 657, 438.3], ['model', 657, 456], ['(mean with 95%', 657, 475], ['C.I.) Calibrated', 659.5, 501.7]]
  },
  yLabels: MID_Y_LABELS, smallIndex: 2, smallX: 570.6, yLabelX: 563.8, yLabelAnchor: 'middle', yLabelTop: 416.7, yLabelStep: 17.5,
  row1X: [602.7, 640.8, 683.1, 747, 810.6, 874, 937.3, 999.8], row2X: [604.3, 667.6, 730.1, 792.9]
});
drawAgeDepth({
  core: 'GA', box: [1108.8, 408.3, 1582.9, 691.7], xA: 1128.4, xB: 1571.9, y0: 436.7, per20: 18.9,
  modelDepth: GA_MODEL_DEPTH, modelYear: GA_MODEL_YEAR, ciDepth: GA_CI_DEPTH, ciLo: GA_CI_LO, ciHi: GA_CI_HI,
  c14Depth: GA_C14_DEPTH, c14Lo: GA_C14_LO, c14Hi: GA_C14_HI, onsetDepth: GA_ONSET_DEPTH,
  legend: {
    x: 1127.4, w: 43.7, sy: 431, c14y: 478.3, cx: 1149.2, cy: 502.7,
    lines: [['Bchron age-depth', 1179.5, 430], ['model (mean with', 1179.5, 449.3], ['95% C.I.)', 1179.5, 468.3],
            ['Calibrated radiocarbon age', 1181.9, 496], ['Onset of pollution (1877 CE \u00B1 15)', 1181.9, 520]]
  },
  yLabels: MID_Y_LABELS, smallIndex: 2, smallX: 1096.4, yLabelX: 1088.3, yLabelAnchor: 'middle', yLabelTop: 416.7, yLabelStep: 17.5,
  row1X: [1145.9, 1184.6, 1226.7, 1290.6, 1354, 1417.6, 1480.9, 1543.9], row2X: [1252.6, 1314.9, 1377.5, 1439.8]
});

drawRsl({
  core: 'GD', box: [46.3, 894.3, 521.5, 1176.7], xA: 66.6, xB: 511.4, yA: 923.3, yB: 1158.3,
  fitYear: GD_FIT_YEAR, fit: GD_FIT, fitErr: GD_FIT_ERR, rslYear: GD_RSL_YEAR, rsl: GD_RSL,
  legend: {
    x: 61.9, w: 28.7, cx: 76, cy: 965, tx: 97.3,
    lines: [['EIV-IGP model predictions', 896], ['for ERM trench (mean 95%', 916], ['credible interval)', 935],
            ['RSL reconstruction mid', 964.3], ['point', 983.3], ['EIV-IGP model predictions', 1011],
            ['for GD core (mean 95%', 1030.7], ['credible interval)', 1049.3]]
  },
  yLabels: [['0.0', 43.3, 903.3, 'end'], ['-0.5', 43.3, 949.3, 'end'], ['-1.0', 43.3, 995, 'end'],
            ['-', 25.4, 1096, 'start'], ['1.', 25.4, 1111.7, 'start'], ['5', 25.4, 1128.3, 'start'],
            ['-', 25.4, 1173, 'start'], ['2.', 25.4, 1190, 'start'], ['0', 25.4, 1206.7, 'start'],
            ['-', 25.4, 1251.7, 'start'], ['2.', 25.4, 1267.3, 'start'], ['5', 25.4, 1283.3, 'start']],
  xLabels: [['-200', 69.3], ['0', 107.5], ['200', 148.8], ['400', 212.9], ['600', 277.1], ['800', 340.7], ['1000', 403.9], ['1200', 466.4], ['1400', 529.3]],
  xLabels2: [['1600', 119.7], ['1800', 183.5], ['2000', 240.5]],
  titles: [['Core GD (East River', 267, 1248], ['Marsh)', 267, 1270.7]]
});
drawRsl({
  core: 'GK', box: [580.7, 894.3, 1053.9, 1176.7], xA: 600.3, xB: 1043.4, yA: 923.3, yB: 1158.3,
  fitYear: GK_FIT_YEAR, fit: GK_FIT, fitErr: GK_FIT_ERR, rslYear: GK_RSL_YEAR, rsl: GK_RSL,
  legend: {
    x: 595.2, w: 28.4, cx: 610.1, cy: 964.3, tx: 630.7,
    lines: [['EIV-IGP model predictions', 896], ['for ERM trench (mean 95%', 916], ['credible interval)', 935],
            ['RSL reconstruction mid', 964.3], ['point', 983.3], ['EIV-IGP model predictions', 1011],
            ['for GK core (mean 95%', 1030.7], ['credible interval)', 1049.3]]
  },
  yLabels: [['0.0', 575.6, 903.3, 'end'], ['-0.5', 575.6, 950, 'end'], ['-1.0', 575.6, 996, 'end'],
            ['-', 558.7, 1096.7, 'start'], ['1.', 558.7, 1112.3, 'start'], ['5', 558.7, 1128.3, 'start'],
            ['-', 558.7, 1173.3, 'start'], ['2.', 558.7, 1190.7, 'start'], ['0', 558.7, 1207.3, 'start'],
            ['-', 558.7, 1250.7, 'start'], ['2.', 558.7, 1267.3, 'start'], ['5', 558.7, 1284, 'start']],
  xLabels: [['-200', 602.7], ['0', 640.8], ['200', 682.1], ['400', 746.3], ['600', 809.9], ['800', 873.7], ['1000', 937.3], ['1200', 999.8], ['1400', 1061]],
  xLabels2: [['1600', 651.7], ['1800', 714.5], ['2000', 776.4]],
  titles: [['Core GK (East River', 802.5, 1251.7], ['Marsh)', 802.5, 1274.3]]
});
drawRsl({
  core: 'GA', box: [1106.2, 896, 1580.3, 1178.3], xA: 1126.4, xB: 1570.2, yA: 925, yB: 1159.3,
  fitYear: GA_FIT_YEAR, fit: GA_FIT, fitErr: GA_FIT_ERR, rslYear: GA_RSL_YEAR, rsl: GA_RSL,
  legend: {
    x: 1123.3, w: 27.6, cx: 1137.5, cy: 965, tx: 1157.7,
    lines: [['EIV-IGP model predictions for', 896], ['ERM trench (mean 95%', 916], ['credible interval)', 935],
            ['RSL reconstruction mid point', 964.3], ['EIV-IGP model predictions for', 991],
            ['GA core (mean 95% credible', 1011], ['interval)', 1030]]
  },
  yLabels: [['0.0', 1102.1, 905, 'end'], ['-0.5', 1102.1, 950.7, 'end'], ['-1.0', 1102.1, 996.7, 'end'],
            ['-1.5', 1108.8, 1097.3, 'end'], ['-2.0', 1108.8, 1175, 'end'],
            ['-', 1085.3, 1251.7, 'start'], ['2.', 1085.3, 1267.3, 'start'], ['5', 1085.3, 1284, 'start']],
  xLabels: [['-200', 1127.4], ['0', 1166.1], ['200', 1208.2], ['400', 1271.4], ['600', 1335.5], ['800', 1399.4], ['1000', 1462.4], ['1200', 1525.4]],
  xLabels2: [['1400', 1179.2], ['1600', 1242.8], ['1800', 1304.4], ['2000', 1366.1]],
  titles: [['Core GA (West River Marsh)', 1323.4, 1250]]
});

// shared x-axis line under the bottom row
svg.append('line').attr('x1', 46.3).attr('x2', 1581).attr('y1', 1298.3).attr('y2', 1298.3)
  .attr('stroke', '#111').attr('stroke-width', 1.3);
label(258, 1330, 'Year CE', { bold: true, size: 17 });
label(798.7, 1330, 'Year CE', { bold: true, size: 17 });

// axis titles
label(10, 203, 'Depth in Core', { anchor: 'middle', bold: true, size: 17, rotate: -90 });
label(10, 598, 'Depth in Core', { anchor: 'middle', bold: true, size: 17, rotate: -90 });
label(10, 1025, 'Relative Sea Level', { anchor: 'middle', bold: true, size: 16.5, rotate: -90 });

// lithology swatch and lithology / taxa key under the GD age-depth panel
svg.append('rect').attr('x', 40.7).attr('y', 6.7).attr('width', 46.6).attr('height', 22)
  .attr('fill', LITH_COLOR.peat).attr('stroke', '#555').attr('stroke-width', 1);
label(95.6, 762.7, 'Salt-marsh  peat', { bold: true, size: 16.5 }).attr('xml:space', 'preserve');
svg.append('line').attr('x1', 254.2).attr('x2', 254.2).attr('y1', 752.3).attr('y2', 773.3)
  .attr('stroke', '#111').attr('stroke-width', 1.3);
label(309.3, 763.5, 'Grey clayey peat', { bold: true, size: 16.5 });
const keyClip = svg.append('g').attr('clip-path', clipRect('clip-key', 88.5, 700, 200, 120));
label(153.8, 791.7, 'J. macrescens', { bold: true, italic: true, size: 16.5, anchor: 'end', parent: keyClip });
label(163.3, 791.7, 'T. inflata', { bold: true, italic: true, size: 16.5 });
label(276.5, 791.7, 'T. comprimata', { bold: true, italic: true, size: 16.5 });
label(422.5, 791, 'PME', { bold: true, size: 16.5 });
</script>
</body>
</html>
